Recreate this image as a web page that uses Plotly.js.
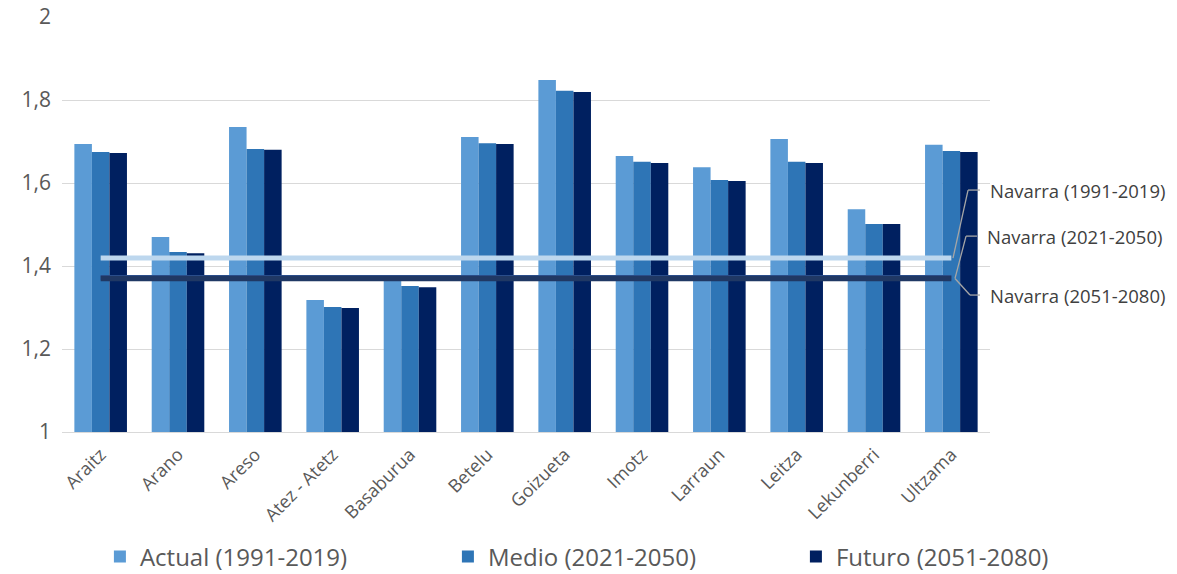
<!DOCTYPE html>
<html>
<head>
<meta charset="utf-8">
<script src="https://cdn.plot.ly/plotly-3.0.1.min.js"></script>
<style>html,body{margin:0;padding:0;background:#fff;}#chart{width:1177px;height:574px;}</style>
</head>
<body>
<div id="chart"></div>
<script>
var categories = ["Araitz","Arano","Areso","Atez - Atetz","Basaburua","Betelu","Goizueta","Imotz","Larraun","Leitza","Lekunberri","Ultzama"];
var actual = [1.694,1.470,1.735,1.318,1.366,1.711,1.848,1.665,1.638,1.706,1.537,1.692];
var medio  = [1.675,1.434,1.682,1.301,1.352,1.696,1.822,1.651,1.607,1.651,1.501,1.677];
var futuro = [1.672,1.431,1.680,1.299,1.349,1.694,1.819,1.648,1.605,1.648,1.501,1.675];
var navarraActual = 1.419;
var navarraMedio = 1.372;
var navarraFuturo = 1.370;
var seriesNames = ["Actual (1991-2019)","Medio (2021-2050)","Futuro (2051-2080)"];
var navarraNames = ["Navarra (1991-2019)","Navarra (2021-2050)","Navarra (2051-2080)"];
var yTickVals = [1,1.2,1.4,1.6,1.8,2];
var yTickText = ["1","1,2","1,4","1,6","1,8","2"];

function flat(v){ return categories.map(function(){ return v; }); }

var FONT = "'Open Sans', 'Noto Sans', sans-serif";

var traces = [
  {type:"bar", name:seriesNames[0], x:categories, y:actual, marker:{color:"#5B9BD5"}},
  {type:"bar", name:seriesNames[1], x:categories, y:medio, marker:{color:"#2E75B6"}},
  {type:"bar", name:seriesNames[2], x:categories, y:futuro, marker:{color:"#002060"}},
  {type:"scatter", mode:"lines", name:navarraNames[0], x:categories, y:flat(navarraActual), line:{color:"#BDD7EE", width:5}, showlegend:false},
  {type:"scatter", mode:"lines", name:navarraNames[1], x:categories, y:flat(navarraMedio), line:{color:"#2E5597", width:5}, showlegend:false},
  {type:"scatter", mode:"lines", name:navarraNames[2], x:categories, y:flat(navarraFuturo), line:{color:"#203864", width:5.5}, showlegend:false}
];

var leaderColor = "#A6A6A6";
function lineShape(x0,y0,x1,y1){
  return {type:"line", xref:"paper", yref:"y", x0:x0, y0:y0, x1:x1, y1:y1, line:{color:leaderColor, width:1.3}};
}
var shapes = [
  lineShape(0.7991, navarraActual, 0.8126, 1.583),
  lineShape(0.8126, 1.583, 0.8233, 1.583),
  lineShape(0.8009, navarraFuturo, 0.8108, 1.472),
  lineShape(0.8108, 1.472, 0.8206, 1.472),
  lineShape(0.8009, navarraFuturo, 0.8143, 1.330),
  lineShape(0.8143, 1.330, 0.8233, 1.330)
];

var labelFont = {family:FONT, size:18.5, color:"#404040"};
var annotations = [
  {xref:"paper", yref:"y", x:0.8305, y:1.583, text:navarraNames[0], showarrow:false, xanchor:"left", yanchor:"middle", font:labelFont},
  {xref:"paper", yref:"y", x:0.8278, y:1.470, text:navarraNames[1], showarrow:false, xanchor:"left", yanchor:"middle", font:labelFont},
  {xref:"paper", yref:"y", x:0.8305, y:1.328, text:navarraNames[2], showarrow:false, xanchor:"left", yanchor:"middle", font:labelFont}
];

var layout = {
  width:1177, height:574,
  margin:{l:62, r:0, t:17, b:142},
  paper_bgcolor:"#fff", plot_bgcolor:"#fff",
  font:{family:FONT},
  barmode:"group", bargap:0.32, bargroupgap:0,
  showlegend:true,
  legend:{orientation:"h", x:0.034, xanchor:"left", yref:"container", y:0.03, yanchor:"middle",
          font:{family:FONT, size:24, color:"#595959"},
          entrywidth:303, entrywidthmode:"pixels", traceorder:"normal"},
  xaxis:{type:"category", domain:[0,0.8323], tickangle:-45, tickfont:{family:FONT, size:18, color:"#595959"}, showgrid:false, showline:true, linecolor:"#D9D9D9", linewidth:1, ticks:"", zeroline:false, automargin:false, ticklabelstandoff:4},
  yaxis:{range:[1,2], tickvals:yTickVals, ticktext:yTickText, tickfont:{family:FONT, size:21, color:"#595959"}, showgrid:true, gridcolor:"#D9D9D9", gridwidth:1, zeroline:false, showline:false, ticks:"", automargin:false, ticklabelstandoff:10},
  shapes:shapes,
  annotations:annotations
};

Plotly.newPlot("chart", traces, layout, {displayModeBar:false, staticPlot:true});
</script>
</body>
</html>
